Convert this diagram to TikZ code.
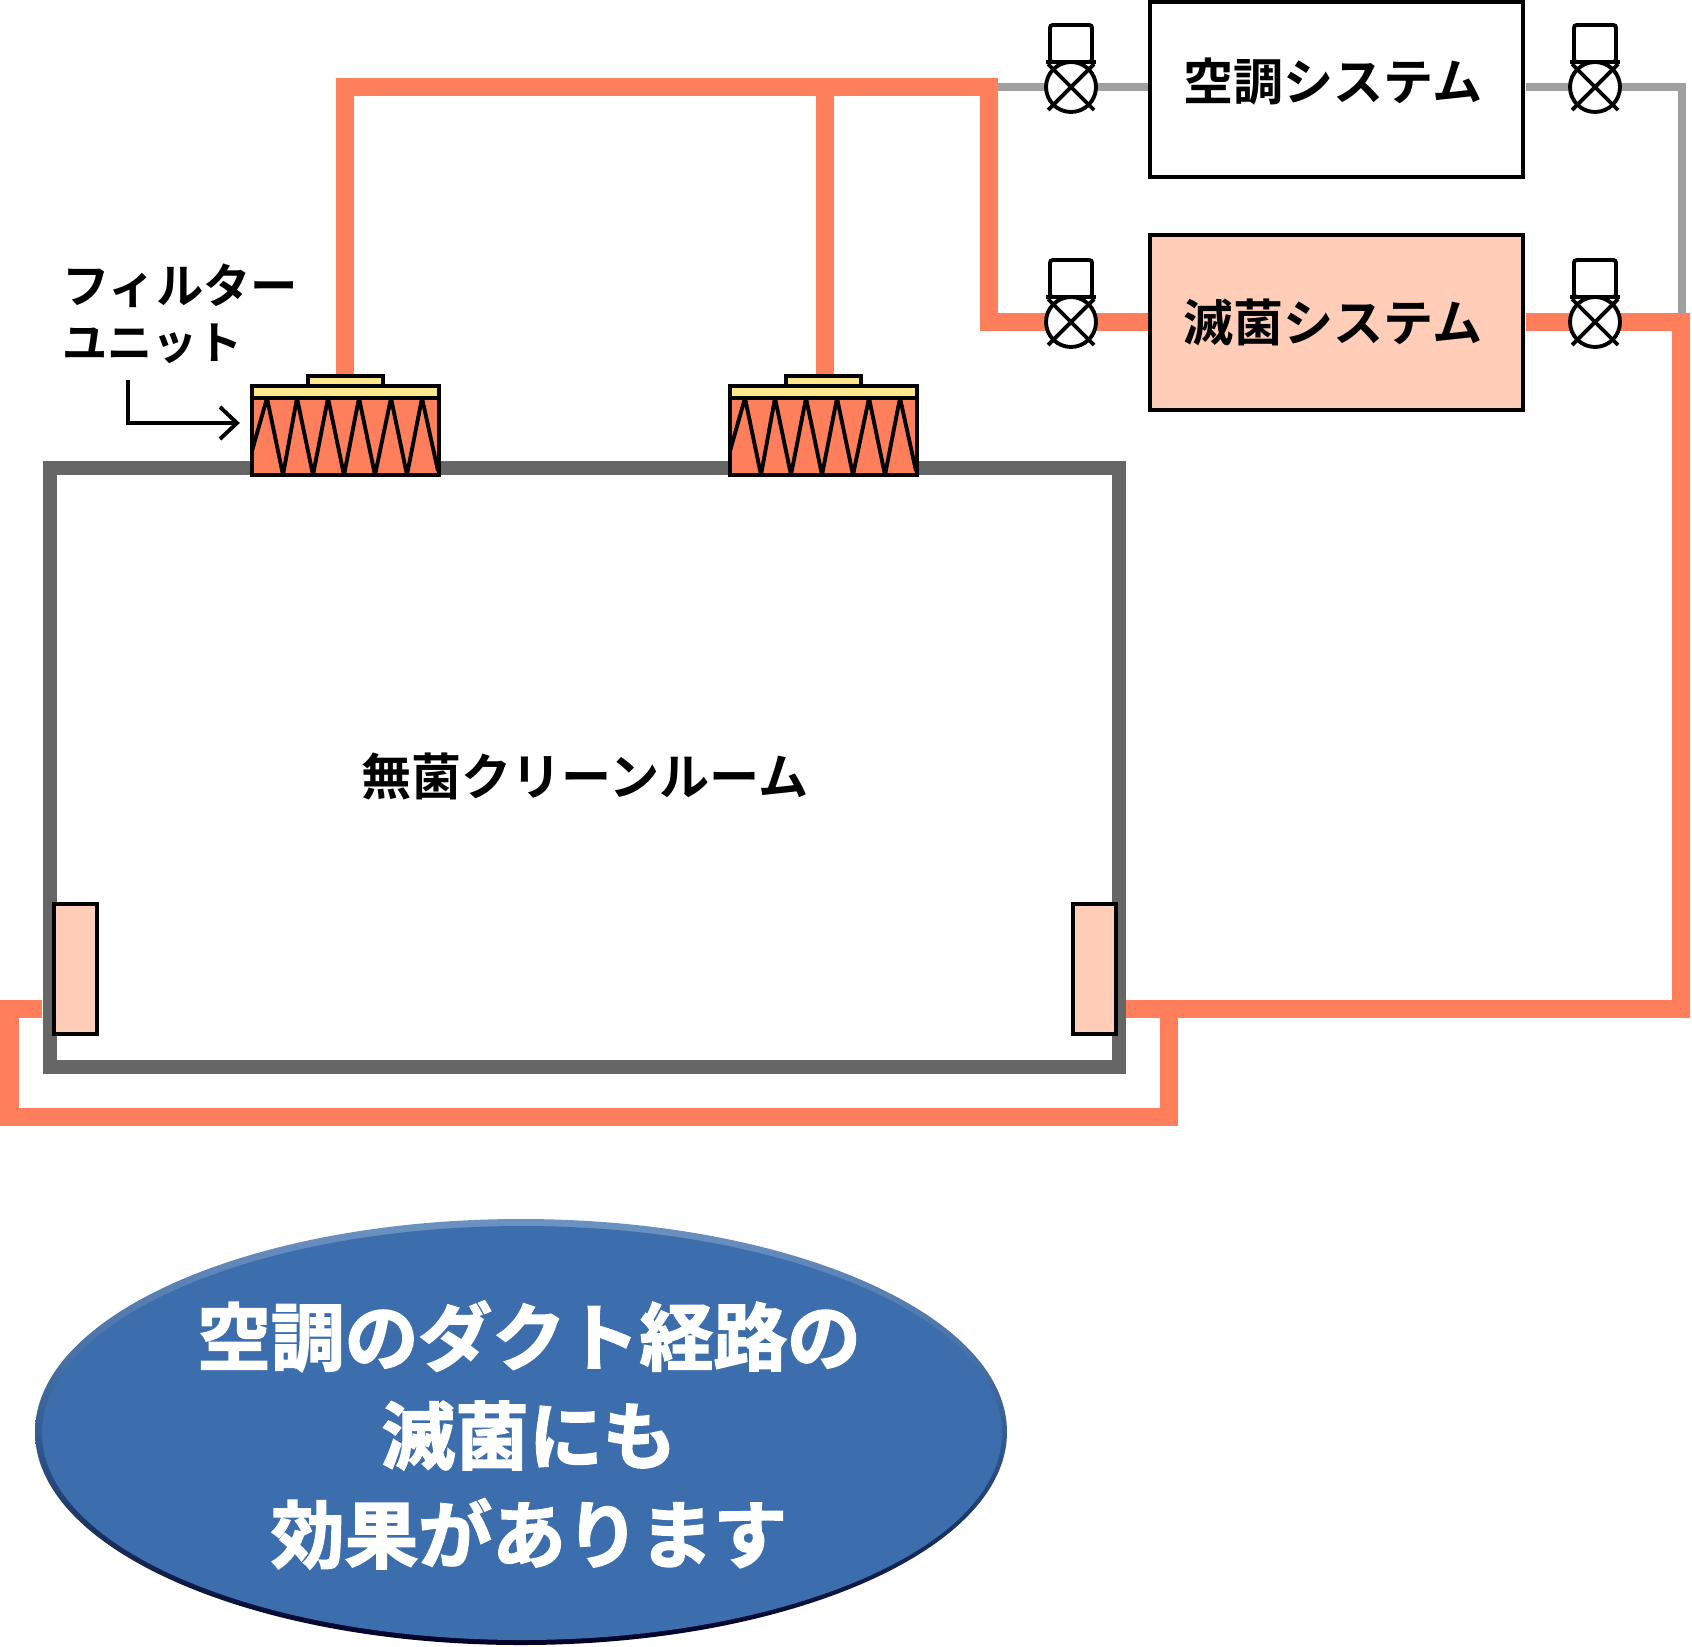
\documentclass[tikz,border=0pt]{standalone}
\usepackage{fontspec}
\setmainfont{Noto Sans CJK JP}[BoldFont={* Bold}]
\newfontfamily\heavy{Noto Sans CJK JP}[UprightFont={* Bold},FakeBold=2.2]
\newfontfamily\semi{Noto Sans CJK JP}[UprightFont={* Bold}]
\definecolor{duct}{HTML}{FF7F5C}
\definecolor{pale}{HTML}{FFCDB8}
\definecolor{ductgray}{HTML}{A0A0A0}
\definecolor{wall}{HTML}{666666}
\definecolor{cream}{HTML}{FFE88C}
\definecolor{blob}{HTML}{3C6EAE}
\tikzset{
  x=0.75pt,y=-0.75pt,
  ductline/.style={draw=duct,line width=13.5pt,line join=miter},
  grayline/.style={draw=ductgray,line width=6pt,line join=miter},
  sysbox/.style={draw=black,line width=3pt,minimum width=280pt,minimum height=131.5pt,inner sep=0pt},
  paneltag/.style={draw=black,line width=3pt,fill=pale},
  blk/.style={line width=2.9pt,draw=black},
  label/.style={font=\semi\fontsize{37.6}{37.6}\selectfont,inner sep=0pt,text=black},
  flabel/.style={font=\semi\fontsize{35.5}{35.5}\selectfont,inner sep=0pt,text=black,anchor=west},
  big/.style={font=\heavy\fontsize{55.3}{74.1}\selectfont,inner sep=0pt,text=white,align=center},
  pics/valve/.style={code={
    \draw[blk,fill=white,rounded corners=2pt] (-21,-25) rectangle (21,-62);
    \draw[blk,fill=white] (0,0) circle[radius=25];
    \draw[blk] (-25,-25) -- (25,-25);
    \draw[blk] (-23,-23) -- (23,23) (23,-23) -- (-23,23);
  }},
  pics/filterunit/.style={code={
    \fill[duct] (0,22) rectangle (187,99);
    \draw[blk,fill=cream] (56,0) rectangle (131,10);
    \draw[blk,fill=cream] (0,10) rectangle (187,22);
    \begin{scope}
      \clip (0,22) rectangle (187,99);
      \draw[blk] (0,75) -- (15,22) -- (31,99) -- (45,22) -- (61,99) -- (76,22) -- (92,99) -- (107,22) -- (123,99) -- (139,22) -- (155,99) -- (170,22) -- (186,95);
    \end{scope}
    \draw[blk] (0,22) rectangle (187,99);
  }}
}
\begin{document}
\begin{tikzpicture}
\useasboundingbox (0,0) rectangle (1692,1646);
\coordinate (rTL) at (49.5,468);
\coordinate (rBR) at (1118.5,1067);
\coordinate (f1) at (345,376);
\coordinate (f2) at (825,376);
\coordinate (jct) at (825,87);

% ducts
\draw[grayline] (998,87) -- (1150,87);
\draw[grayline] (1526,87) -- (1682,87) -- (1682,322);
\draw[ductline] (f1) -- (345,87) -- (989,87) -- (989,322) -- (1150,322);
\draw[ductline] (f2) -- (jct);
\draw[ductline] (1526,322) -- (1681,322) -- (1681,1009) -- (1126,1009);
\draw[ductline] (1169,1009) -- (1169,1117) -- (9.5,1117) -- (9.5,1009) -- (42,1009);

% room
\draw[draw=wall,line width=10.5pt,line join=miter] (rTL) rectangle (rBR);
\node[label] (room) at (585,776) {無菌クリーンルーム};

% panels
\draw[paneltag] (54,904) rectangle (97,1034);
\draw[paneltag] (1072.5,904) rectangle (1115.5,1034);

% filter units
\pic at (252,376) {filterunit};
\pic at (730,376) {filterunit};

% systems
\node[sysbox,fill=white,anchor=north west] (ac) at (1148,0) {};
\node[sysbox,fill=pale,anchor=north west] (st) at (1148,233) {};
\node[label] at (1333,82) {空調システム};
\node[label] at (1333,322) {滅菌システム};

% valves
\pic at (1071,87) {valve};
\pic at (1595,87) {valve};
\pic at (1071,322) {valve};
\pic at (1595,322) {valve};

% filter label
\node[flabel] (fl1) at (62,286) {フィルター};
\node[flabel,font=\semi\fontsize{33.8}{33.8}\selectfont] (fl2) at (62,344) {ユニット};
\coordinate (a0) at (128,380);
\coordinate (a1) at (128,423);
\coordinate (a2) at (237,423);
\draw[blk] (a0) -- (a1) -- (a2);
\draw[blk] (220,407) -- (a2) -- (220,439);

% ellipse
\shade[top color=blob!75!white,bottom color=black!85!blue,middle color=blob!85!black] (521,1432) ellipse[x radius=486,y radius=213];
\fill[blob] (522,1433) ellipse[x radius=480,y radius=207];
\node[big] (msg) at (529,1435) {空調のダクト経路の\\滅菌にも\\効果があります};
\end{tikzpicture}
\end{document}
